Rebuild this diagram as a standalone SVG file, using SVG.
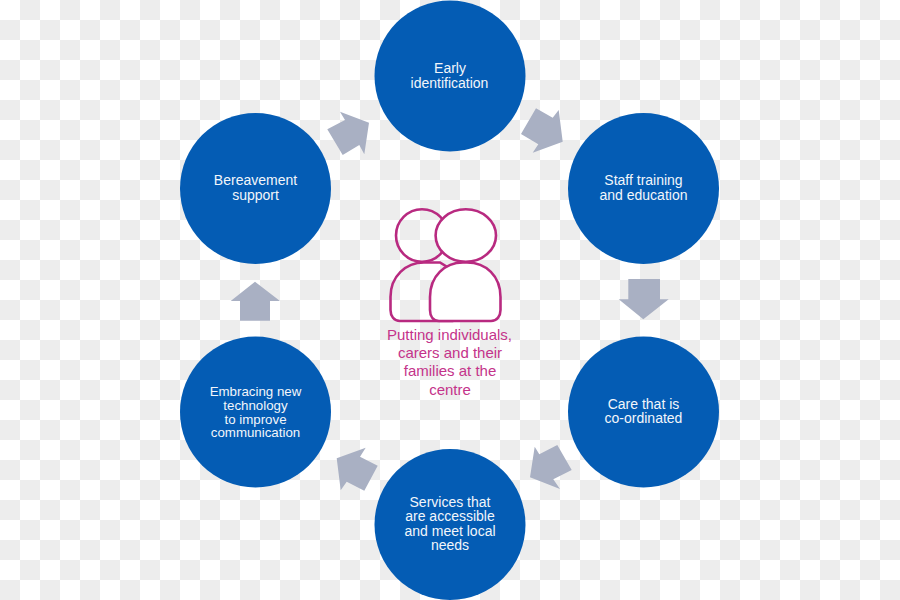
<svg xmlns="http://www.w3.org/2000/svg" width="900" height="600" viewBox="0 0 900 600">
  <style>
    .node { fill: #045cb4; }
    .label { font-family: "Liberation Sans", Arial, sans-serif; font-size: 14px; fill: #f2f6fb; text-anchor: middle; }
    .label.tight { font-size: 13.3px; }
    .arrow { fill: #a9b0c3; }
    .person { stroke: #b82a80; stroke-width: 2.6; }
    .back { fill: none; }
    .front { fill: #ffffff; }
    .caption { font-family: "Liberation Sans", Arial, sans-serif; font-size: 15px; fill: #c4338a; text-anchor: middle; }
  </style>
  <defs>
    <pattern id="checker" width="40" height="40" patternUnits="userSpaceOnUse">
      <rect width="40" height="40" fill="#ffffff"/>
      <rect x="20" y="0" width="20" height="20" fill="#ededed"/>
      <rect x="0" y="20" width="20" height="20" fill="#ededed"/>
    </pattern>
  </defs>
  <rect id="backdrop" width="900" height="600" fill="url(#checker)"/>

  <g id="connectors">
    <polygon class="arrow" points="536,108.3 552.7,117.7 558.7,110 562.7,141.7 532.7,152.7 538.3,144.3 521,134"/>
    <polygon class="arrow" points="628.3,279 660,279 660,299.3 668.7,299.3 643.3,319.3 618.7,299.3 628.3,299.3"/>
    <polygon class="arrow" points="557.3,445 571.7,470 553.3,479.3 560,489 530,477.3 534.7,446.7 539.3,454.3"/>
    <polygon class="arrow" points="336.7,458.3 365.7,447.7 360,456.7 377.7,465.7 364.3,490.7 346.7,481.7 340.7,490.3"/>
    <polygon class="arrow" points="255,281.7 280,301 270,301 270,320.7 240,320.7 240,301 230.7,301"/>
    <polygon class="arrow" points="327.3,129.3 345,120 340,111.7 369,122.7 364.3,154.3 359.3,145 342.7,155"/>
  </g>

  <g id="early-identification">
    <circle class="node" cx="450" cy="76" r="75.5"/>
    <text class="label"><tspan x="450" y="73">Early</tspan><tspan x="449.5" y="87.5">identification</tspan></text>
  </g>
  <g id="staff-training">
    <circle class="node" cx="643.5" cy="188.5" r="75.5"/>
    <text class="label"><tspan x="643.5" y="185.25">Staff training</tspan><tspan x="643.5" y="199.75">and education</tspan></text>
  </g>
  <g id="coordinated-care">
    <circle class="node" cx="643.5" cy="412" r="75.5"/>
    <text class="label"><tspan x="643.5" y="408.75">Care that is</tspan><tspan x="643.5" y="423.25">co-ordinated</tspan></text>
  </g>
  <g id="accessible-services">
    <circle class="node" cx="450" cy="524.5" r="75.5"/>
    <text class="label"><tspan x="450" y="506.5">Services that</tspan><tspan x="450" y="521.25">are accessible</tspan><tspan x="450" y="535.75">and meet local</tspan><tspan x="450" y="550.25">needs</tspan></text>
  </g>
  <g id="new-technology">
    <circle class="node" cx="255.5" cy="412" r="75.5"/>
    <text class="label tight"><tspan x="255.5" y="396">Embracing new</tspan><tspan x="255.5" y="410">technology</tspan><tspan x="255.5" y="423.5">to improve</tspan><tspan x="255.5" y="437">communication</tspan></text>
  </g>
  <g id="bereavement-support">
    <circle class="node" cx="255.5" cy="188.5" r="75.5"/>
    <text class="label"><tspan x="255.5" y="185">Bereavement</tspan><tspan x="255.5" y="200">support</tspan></text>
  </g>

  <g id="centre">
    <ellipse class="person back" cx="422" cy="235.5" rx="26" ry="26.3"/>
    <path class="person back" d="M390.5 310 V297 C390.5 276 406 262.5 424 262.5 H440 L452 270 V321 H400 C394 321 390.5 316 390.5 310 Z"/>
    <ellipse class="person front" cx="465.8" cy="235.5" rx="30.2" ry="26.3"/>
    <path class="person front" d="M430 310 V297 C430 276 445 262.5 463 262.5 H467 C486 262.5 500.5 276 500.5 297 V310 C500.5 316 497 321 491 321 H439 C433 321 430 316 430 310 Z"/>
    <text class="caption"><tspan x="449.5" y="340">Putting individuals,</tspan><tspan x="450" y="358">carers and their</tspan><tspan x="450" y="376">families at the</tspan><tspan x="450" y="395">centre</tspan></text>
  </g>
</svg>
